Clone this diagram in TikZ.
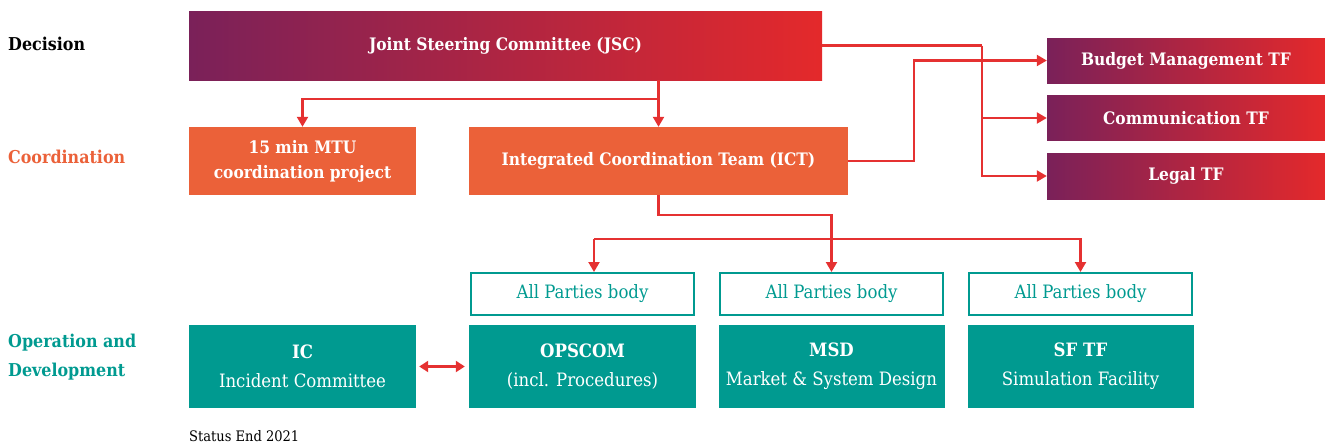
\documentclass[tikz,border=0pt]{standalone}
\usepackage{fontspec}
\setmainfont{DejaVu Serif Condensed}
\usetikzlibrary{arrows.meta}

\definecolor{jscpurple}{HTML}{7A2159}
\definecolor{jscred}{HTML}{E4292B}
\definecolor{coordorange}{HTML}{EB6139}
\definecolor{opsteal}{HTML}{009A90}
\definecolor{linkred}{HTML}{E53131}

\newcommand{\boldtext}{\fontsize{17.2}{25}\selectfont\bfseries}
\newcommand{\plaintext}{\fontsize{18.4}{29}\selectfont}

\begin{document}
\begin{tikzpicture}[x=1pt, y=-1pt,
  every node/.style={inner sep=0pt},
  decbox/.style={left color=jscpurple, right color=jscred, text=white, font=\boldtext, align=center},
  coordbox/.style={fill=coordorange, text=white, font=\boldtext, align=center, minimum height=68pt},
  opsbox/.style={fill=opsteal, text=white, font=\plaintext, align=center, minimum width=226pt, minimum height=83pt},
  partybox/.style={draw=opsteal, line width=2pt, text=opsteal, font=\plaintext, minimum width=223pt, minimum height=42pt},
  tier/.style={font=\fontsize{17.7}{29}\selectfont\bfseries, anchor=west, align=left},
  link/.style={draw=linkred, line width=2.2pt},
  arr/.style={link, -{Triangle[length=10pt,width=11pt]}}
]
\useasboundingbox (0,0) rectangle (1325,445);

% levels
\node[tier] (lDec) at (8,44) {Decision};
\node[tier, text=coordorange] (lCoord) at (8,157) {Coordination};
\node[tier, text=opsteal] (lOps) at (8,357) {Operation and\\Development};

% decision
\node[decbox, minimum width=633pt, minimum height=69pt] (jsc) at (505.5,45.5) {Joint Steering Committee (JSC)};
\node[decbox, minimum width=278pt, minimum height=45pt] (budget) at (1186,60.5) {Budget Management TF};
\node[decbox, minimum width=278pt, minimum height=45pt] (comm) at (1186,118) {Communication TF};
\node[decbox, minimum width=278pt, minimum height=46pt] (legal) at (1186,176) {Legal TF};

% coordination
\node[coordbox, minimum width=227pt] (mtu) at (302.5,161) {15 min MTU\\coordination project};
\node[coordbox, minimum width=379pt] (ict) at (658.5,161) {Integrated Coordination Team (ICT)};

% operation and development
\node[partybox] (ap1) at (582.5,294) {All Parties body};
\node[partybox] (ap2) at (831.5,294) {All Parties body};
\node[partybox] (ap3) at (1080.5,294) {All Parties body};
\node[opsbox, minimum width=227pt] (ic) at (302.5,366.5) {\textbf{IC}\\Incident Committee};
\node[opsbox, minimum width=227pt] (ops) at (582.5,366.5) {\textbf{OPSCOM}\\(incl. Procedures)};
\node[opsbox] (msd) at (831.5,366.5) {\textbf{MSD}\\Market \& System Design};
\node[opsbox] (sf) at (1080.5,366.5) {\textbf{SF TF}\\Simulation Facility};

\node[anchor=west, font=\fontsize{14.5}{16}\selectfont] (status) at (189,436) {Status End 2021};

% connectors
\coordinate (jsplit) at (982,45.5);
\draw[link] (jsc.east) -- (jsplit);
\draw[arr] (jsplit) |- (legal.west);
\draw[arr] (jsplit |- comm.west) -- (comm.west);
\draw[arr] (ict.east) -- (914,161) |- (budget.west);

\draw[arr] (ict.north |- jsc.south) -- (ict.north);
\draw[arr] (ict.north |- 0,99) -| (mtu.north);

\coordinate (ictdown) at (ict.south |- 0,215);
\draw[arr] (ict.south) -- (ictdown) -| (ap2.north);
\coordinate (tleft) at (594,239);
\draw[arr] (tleft) -| (ap3.north);
\draw[arr] (tleft) -- (tleft |- ap1.north);

\draw[link, {Triangle[length=9pt,width=11pt]}-{Triangle[length=9pt,width=11pt]}] ([xshift=3pt]ic.east) -- ([xshift=-4pt]ops.west);

\end{tikzpicture}
\end{document}
